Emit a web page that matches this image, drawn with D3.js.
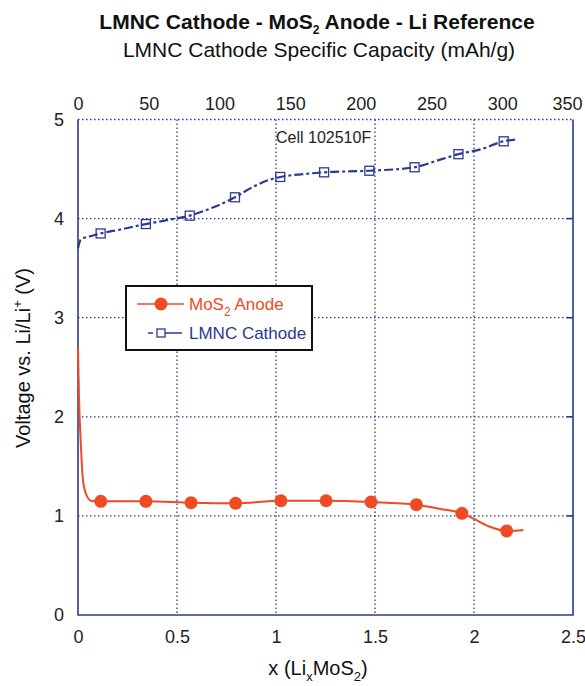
<!DOCTYPE html>
<html>
<head>
<meta charset="utf-8">
<script src="https://cdn.jsdelivr.net/npm/d3@7"></script>
<style>
  body { margin: 0; background: #fff; }
  svg text { font-family: "Liberation Sans", Arial, sans-serif; }
</style>
</head>
<body>
<div id="chart"></div>
<script>
// -------------------- DATA --------------------
// LMNC cathode, plotted against the top axis (mAh/g)
let cathodeCap = [0, 2, 8, 16, 30, 48, 65, 79, 95, 111, 125, 135, 143, 160, 174, 206, 238, 255, 269, 285, 301, 311];
let cathodeV   = [3.70, 3.79, 3.82, 3.85, 3.89, 3.945, 3.99, 4.03, 4.11, 4.215, 4.33, 4.39, 4.42, 4.45, 4.467, 4.483, 4.518, 4.59, 4.65, 4.70, 4.78, 4.80];
let cathodeMarkCap = [16, 48, 79, 111, 143, 174, 206, 238, 269, 301];
let cathodeMarkV   = [3.85, 3.945, 4.03, 4.215, 4.42, 4.467, 4.483, 4.518, 4.65, 4.78];

// MoS2 anode, plotted against the bottom axis (x in LixMoS2)
let anodeX = [0, 0.005, 0.015, 0.025, 0.045, 0.07, 0.115, 0.343, 0.571, 0.796, 1.025, 1.253, 1.48, 1.709, 1.83, 1.939, 2.0, 2.08, 2.165, 2.249];
let anodeV = [2.7, 2.2, 1.7, 1.36, 1.2, 1.15, 1.147, 1.147, 1.133, 1.127, 1.153, 1.153, 1.14, 1.113, 1.07, 1.026, 0.97, 0.89, 0.848, 0.858];
let anodeMarkX = [0.115, 0.343, 0.571, 0.796, 1.025, 1.253, 1.48, 1.709, 1.939, 2.165];
let anodeMarkV = [1.147, 1.147, 1.133, 1.127, 1.153, 1.153, 1.14, 1.113, 1.026, 0.848];

let topTicks = [0, 50, 100, 150, 200, 250, 300, 350];
let bottomTicks = [0, 0.5, 1, 1.5, 2, 2.5];
let yTicks = [0, 1, 2, 3, 4, 5];

const red = "#ef4a23";
const blue = "#2b3990";

const margin = { top: 119.5, right: 12, bottom: 71, left: 78 };
const width = 585 - margin.left - margin.right;
const height = 686 - margin.top - margin.bottom;

const svg = d3.select("#chart").append("svg")
  .attr("width", 585)
  .attr("height", 686);

const g = svg.append("g")
  .attr("transform", `translate(${margin.left},${margin.top})`);

const xCap = d3.scaleLinear().domain([0, 350]).range([0, width]);
const xLi = d3.scaleLinear().domain([0, 2.5]).range([0, width]);
const y = d3.scaleLinear().domain([0, 5]).range([height, 0]);

// grid
g.append("g").selectAll("line").data(bottomTicks.slice(1, -1)).join("line")
  .attr("x1", d => xLi(d)).attr("x2", d => xLi(d))
  .attr("y1", 0).attr("y2", height)
  .attr("stroke", blue).attr("stroke-width", 1.3).attr("stroke-dasharray", "1.5,2.5");

g.append("g").selectAll("line").data(yTicks.slice(1)).join("line")
  .attr("x1", 0).attr("x2", width)
  .attr("y1", d => y(d)).attr("y2", d => y(d))
  .attr("stroke", blue).attr("stroke-width", 1.3).attr("stroke-dasharray", "1.5,2.5");

// frame (left, bottom, right solid)
g.append("path")
  .attr("d", `M0,0V${height}H${width}V0`)
  .attr("fill", "none").attr("stroke", blue).attr("stroke-width", 1.6);

// small inward ticks on the right
g.append("g").selectAll("line").data(yTicks.slice(1, -1)).join("line")
  .attr("x1", width - 6).attr("x2", width)
  .attr("y1", d => y(d)).attr("y2", d => y(d))
  .attr("stroke", blue).attr("stroke-width", 1.6);

// axes (labels only)
const axisBottom = g.append("g")
  .attr("transform", `translate(0,${height})`)
  .call(d3.axisBottom(xLi).tickValues(bottomTicks).tickSize(0).tickPadding(15).tickFormat(d3.format("")));
const axisTop = g.append("g")
  .call(d3.axisTop(xCap).tickValues(topTicks).tickSize(0).tickPadding(10));
const axisLeft = g.append("g")
  .call(d3.axisLeft(y).tickValues(yTicks).tickSize(0).tickPadding(14).tickFormat(d3.format("")));

[axisBottom, axisTop, axisLeft].forEach(a => {
  a.select(".domain").remove();
  a.selectAll("text").attr("font-size", 18).attr("fill", "#222")
    .attr("font-family", "'Liberation Sans', Arial, sans-serif");
});
// keep the last top label inside the page
axisTop.selectAll(".tick").filter(d => d === 350).select("text").attr("dx", -6);

// cathode curve
const cathodeLine = d3.line()
  .x((d, i) => xCap(cathodeCap[i]))
  .y(d => y(d))
  .curve(d3.curveMonotoneX);

g.append("path")
  .datum(cathodeV)
  .attr("fill", "none")
  .attr("stroke", blue)
  .attr("stroke-width", 2.2)
  .attr("stroke-dasharray", "9,3,3,3")
  .attr("d", cathodeLine);

g.append("g").selectAll("rect").data(cathodeMarkV).join("rect")
  .attr("x", (d, i) => xCap(cathodeMarkCap[i]) - 4.5)
  .attr("y", d => y(d) - 4.5)
  .attr("width", 9).attr("height", 9)
  .attr("fill", "none").attr("stroke", blue).attr("stroke-width", 1.3);

// anode curve
const anodeLine = d3.line()
  .x((d, i) => xLi(anodeX[i]))
  .y(d => y(d))
  .curve(d3.curveMonotoneX);

g.append("path")
  .datum(anodeV)
  .attr("fill", "none")
  .attr("stroke", red)
  .attr("stroke-width", 2)
  .attr("d", anodeLine);

g.append("g").selectAll("circle").data(anodeMarkV).join("circle")
  .attr("cx", (d, i) => xLi(anodeMarkX[i]))
  .attr("cy", d => y(d))
  .attr("r", 6.5)
  .attr("fill", red);

// cell label
svg.append("text")
  .attr("x", 276).attr("y", 143)
  .attr("font-size", 16).attr("fill", "#222")
  .text("Cell 102510F");

// legend
const lg = svg.append("g");
lg.append("rect")
  .attr("x", 126).attr("y", 286).attr("width", 186).attr("height", 64)
  .attr("fill", "#fff").attr("stroke", "#111").attr("stroke-width", 2);
lg.append("line").attr("x1", 137).attr("x2", 184).attr("y1", 304).attr("y2", 304)
  .attr("stroke", red).attr("stroke-width", 1.5);
lg.append("circle").attr("cx", 161).attr("cy", 304).attr("r", 6.5).attr("fill", red);
lg.append("line").attr("x1", 148).attr("x2", 182).attr("y1", 333).attr("y2", 333)
  .attr("stroke", blue).attr("stroke-width", 1.5).attr("stroke-dasharray", "5,4,30");
lg.append("rect").attr("x", 157).attr("y", 329).attr("width", 8).attr("height", 8)
  .attr("fill", "#fff").attr("stroke", blue).attr("stroke-width", 1.3);

const t1 = lg.append("text").attr("x", 189).attr("y", 310).attr("font-size", 17).attr("fill", red);
t1.append("tspan").text("MoS");
t1.append("tspan").attr("font-size", 12).attr("dy", 6).text("2");
t1.append("tspan").attr("dy", -6).text(" Anode");
lg.append("text").attr("x", 189).attr("y", 339).attr("font-size", 17).attr("fill", blue)
  .text("LMNC Cathode");

// titles
const title = svg.append("text")
  .attr("x", 317).attr("y", 29)
  .attr("text-anchor", "middle")
  .attr("font-size", 21).attr("font-weight", "bold").attr("fill", "#111");
title.append("tspan").text("LMNC Cathode - MoS");
title.append("tspan").attr("font-size", 12).attr("dy", 5).text("2");
title.append("tspan").attr("dy", -5).text(" Anode - Li Reference");

svg.append("text")
  .attr("x", 319).attr("y", 57)
  .attr("text-anchor", "middle")
  .attr("font-size", 21).attr("fill", "#111")
  .text("LMNC Cathode Specific Capacity (mAh/g)");

const xt = svg.append("text")
  .attr("x", 318).attr("y", 675)
  .attr("text-anchor", "middle")
  .attr("font-size", 20).attr("fill", "#111");
xt.append("tspan").text("x (Li");
xt.append("tspan").attr("font-size", 13).attr("dy", 6).text("x");
xt.append("tspan").attr("dy", -6).text("MoS");
xt.append("tspan").attr("font-size", 13).attr("dy", 6).text("2");
xt.append("tspan").attr("dy", -6).text(")");

const yt = svg.append("text")
  .attr("transform", "translate(30,358) rotate(-90)")
  .attr("text-anchor", "middle")
  .attr("font-size", 20).attr("fill", "#111");
yt.append("tspan").text("Voltage vs. Li/Li");
yt.append("tspan").attr("font-size", 13).attr("dy", -8).text("+");
yt.append("tspan").attr("dy", 8).text(" (V)");
</script>
</body>
</html>
